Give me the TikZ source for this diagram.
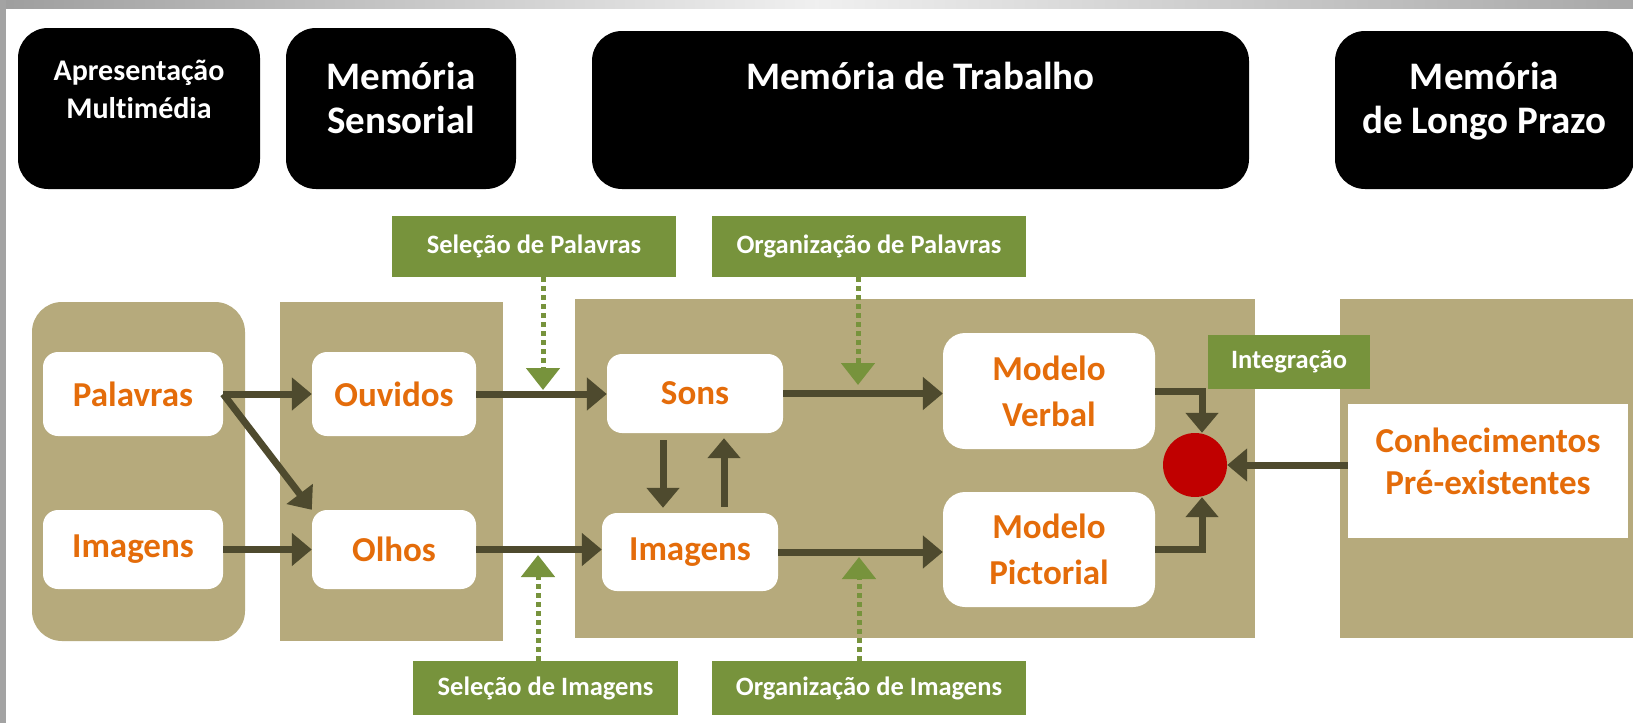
\documentclass[tikz,border=0pt]{standalone}
\usepackage{fontspec}
\setmainfont{Carlito}[Ligatures=NoCommon]
\usetikzlibrary{arrows.meta,calc}
\definecolor{tanc}{HTML}{B6AA7C}
\definecolor{dk}{HTML}{4E4A2E}
\definecolor{grn}{HTML}{77933C}
\definecolor{org}{HTML}{E46C0A}
\definecolor{rd}{HTML}{C00000}
\begin{document}
\begin{tikzpicture}[x=1pt,y=-1pt,
  hdrbox/.style={fill=black, draw=none, rounded corners=30pt, inner sep=0pt},
  hdr/.style={text=white, font=\bfseries\fontsize{39}{44}\selectfont, align=center, inner sep=0pt, anchor=north},
  hdrsmall/.style={hdr, font=\bfseries\fontsize{30}{38}\selectfont},
  panel/.style={fill=tanc, draw=none},
  wbox/.style={fill=white, draw=none, rounded corners=15pt, inner sep=0pt, text=org, align=center, font=\bfseries\fontsize{35}{46}\selectfont},
  gbox/.style={fill=grn, draw=none, inner sep=0pt, text=white, font=\bfseries\fontsize{26.5}{30}\selectfont},
  darr/.style={draw=dk, line width=7pt, -{Triangle[length=20pt,width=32pt]}},
  garr/.style={draw=grn, line width=5pt, dash pattern=on 5pt off 4pt, -{Triangle[length=22pt,width=33pt]}}
]
\useasboundingbox (0,0) rectangle (1633,723);
\fill[white] (0,0) rectangle (1633,723);
% frame bands
\shade[left color=black!38, right color=black!34, middle color=black!6] (0,0) rectangle (1633,8);
\fill[black!36] (0,0) rectangle (6,723);

% header boxes
\node[hdrbox, minimum width=242pt, minimum height=161pt] (b1) at (139,108.5) {};
\node[hdrbox, minimum width=230pt, minimum height=161pt] (b2) at (401,108.5) {};
\node[hdrbox, minimum width=657pt, minimum height=158pt] (b3) at (920.5,110) {};
\node[hdrbox, minimum width=299pt, minimum height=158pt] (b4) at (1484.5,110) {};
\node[hdrsmall] (b1t) at (139,60) {Apresentação\\Multimédia};
\node[hdr] (b2t) at (401,62) {Memória\\Sensorial};
\node[hdr] (b3t) at (920.5,62) {Memória de Trabalho};
\node[hdr] (b4t) at (1484.5,62) {Memória\\de Longo Prazo};

% panels
\fill[panel, rounded corners=30pt] (32,302) rectangle (245,641);
\fill[panel] (280,302) rectangle (503,641);
\fill[panel] (575,299) rectangle (1255,638);
\fill[panel] (1340,299) rectangle (1640,638);

% green labels
\node[gbox, minimum width=284pt, minimum height=61pt] (gsp) at (534,246.5) {Seleção de Palavras};
\node[gbox, minimum width=314pt, minimum height=61pt] (gop) at (869,246.5) {Organização de Palavras};
\node[gbox, minimum width=265pt, minimum height=54pt] (gsi) at (545.5,688) {Seleção de Imagens};
\node[gbox, minimum width=314pt, minimum height=54pt] (goi) at (869,688) {Organização de Imagens};
\node[gbox, minimum width=162pt, minimum height=54pt] (gint) at (1289,362) {Integração};

% white boxes
\node[wbox, minimum width=180pt, minimum height=84pt] (pal) at (133,394) {Palavras};
\node[wbox, minimum width=180pt, minimum height=79pt] (iml) at (133,549.5) {Imagens};
\node[wbox, minimum width=164pt, minimum height=84pt] (ouv) at (394,394) {Ouvidos};
\node[wbox, minimum width=164pt, minimum height=79pt] (olh) at (394,549.5) {Olhos};
\node[wbox, minimum width=176pt, minimum height=79pt] (sons) at (695,393.5) {Sons};
\node[wbox, minimum width=176pt, minimum height=78pt] (imm) at (690,552) {Imagens};
\node[wbox, rounded corners=22pt, minimum width=212pt, minimum height=116pt] (mv) at (1049,391) {Modelo\\Verbal};
\node[wbox, rounded corners=22pt, minimum width=212pt, minimum height=115pt] (mp) at (1049,549.5) {Modelo\\Pictorial};
\node[wbox, rounded corners=0pt, minimum width=280pt, minimum height=134pt] (con) at (1488,471) {};
\node[text=org, align=center, inner sep=0pt, font=\bfseries\fontsize{35}{42}\selectfont] (cont) at ([yshift=10pt]con.center) {Conhecimentos\\Pré-existentes};
\node[circle, fill=rd, draw=none, minimum size=64pt, inner sep=0pt] (circ) at (1195,465) {};

% dark arrows
\draw[darr] (pal.east) -- (ouv.west);
\draw[darr] (pal.east) -- (olh.north west);
\draw[darr] (iml.east) -- (olh.west);
\draw[darr] (ouv.east) -- (ouv.east -| sons.west);
\draw[darr] (olh.east) -- (olh.east -| imm.west);
\draw[darr] (sons.east) -- (sons.east -| mv.west);
\draw[darr] (imm.east) -- (imm.east -| mp.west);
\draw[darr, shorten <=7pt, shorten >=5pt] ([xshift=-32pt]sons.south) -- ([xshift=-32pt]sons.south |- imm.north);
\draw[darr, shorten <=6pt, shorten >=5pt] ([xshift=29pt]sons.south |- imm.north) -- ([xshift=29pt]sons.south);
\draw[darr] (mv.east) -| ([xshift=7pt]circ.north);
\draw[darr] (mp.east) -| ([xshift=7pt]circ.south);
\draw[darr] (con.west |- circ.east) -- (circ.east);

% green dotted arrows
\coordinate (tsp) at (543,390);
\coordinate (top) at (858,385);
\coordinate (tsi) at (538,555);
\coordinate (toi) at (859,557);
\draw[garr] (gsp.south -| tsp) -- (tsp);
\draw[garr] (gop.south -| top) -- (top);
\draw[garr] (gsi.north -| tsi) -- (tsi);
\draw[garr] (goi.north -| toi) -- (toi);
\end{tikzpicture}
\end{document}
